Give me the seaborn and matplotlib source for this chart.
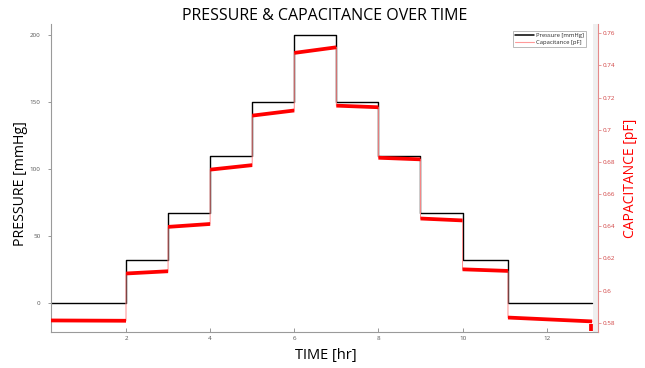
import matplotlib
matplotlib.use("Agg")
import matplotlib.pyplot as plt
from matplotlib.lines import Line2D
from matplotlib.ticker import FuncFormatter
import pandas as pd
import seaborn as sns

# hold boundaries (hours); one pressure level per hold
step_edges_hr = [0.2, 2.0, 3.0, 4.0, 5.0, 6.0, 7.0, 8.0, 9.0, 10.0, 11.08, 13.08]
pressure_mmhg = [0, 32, 67, 110, 150, 200, 150, 110, 67, 32, 0]

# capacitance at the start and end of each hold (it drifts a little)
cap_start_pf = [0.5814, 0.6106, 0.6396, 0.6752, 0.7088, 0.7478, 0.7150, 0.6826, 0.6448, 0.6132, 0.5832]
cap_end_pf = [0.5812, 0.6120, 0.6414, 0.6780, 0.7120, 0.7513, 0.7140, 0.6816, 0.6436, 0.6122, 0.5808]

# little dip at the very end of the recording
tail_hr = [13.06, 13.06]
tail_pf = [0.5790, 0.5750]

x_ticks = [2, 4, 6, 8, 10, 12]
pressure_ticks = [0, 50, 100, 150, 200]
cap_ticks = [0.58, 0.60, 0.62, 0.64, 0.66, 0.68, 0.70, 0.72, 0.74, 0.76]

sns.set_theme(style="white")
plt.rcParams['font.family'] = ['Open Sans', 'DejaVu Sans']

# long tables for seaborn
p_rows = []
c_rows = []
for i, level in enumerate(pressure_mmhg):
    p_rows.append([step_edges_hr[i], level])
    p_rows.append([step_edges_hr[i + 1], level])
    c_rows.append([step_edges_hr[i], cap_start_pf[i], i])
    c_rows.append([step_edges_hr[i + 1], cap_end_pf[i], i])
for t, c in zip(tail_hr, tail_pf):
    c_rows.append([t, c, len(pressure_mmhg)])
p_df = pd.DataFrame(p_rows, columns=['hr', 'mmHg'])
c_df = pd.DataFrame(c_rows, columns=['hr', 'pF', 'seg'])

fig = plt.figure(figsize=(6.45, 3.68), dpi=100)
ax = fig.add_axes([50.7 / 645, 1 - 331.7 / 368, (598 - 50.7) / 645, (331.7 - 24.3) / 368])
ax2 = ax.twinx()

ax.axvspan(13.1, 13.3, color='#efefef', lw=0, zorder=0)

sns.lineplot(data=p_df, x='hr', y='mmHg', estimator=None, sort=False,
             color='black', lw=1.0, ax=ax)

# thin trace linking the holds, then the thick noisy bands
sns.lineplot(data=c_df[c_df.seg < len(pressure_mmhg)], x='hr', y='pF', estimator=None,
             sort=False, color='#ff8c8c', lw=0.7, ax=ax2)
sns.lineplot(data=c_df, x='hr', y='pF', units='seg', estimator=None, sort=False,
             color='#ff0000', lw=2.7, ax=ax2, solid_capstyle='butt')

ax.set_xlim(0.21, 13.22)
ax.set_ylim(-21.3, 208)
ax2.set_ylim(0.5744, 0.7656)

ax.set_xticks(x_ticks)
ax.set_yticks(pressure_ticks)
ax2.set_yticks(cap_ticks)
ax2.yaxis.set_major_formatter(FuncFormatter(lambda v, p: f'{v:g}'))

ax.set_xlabel('')
ax.set_ylabel('')
ax2.set_xlabel('')
ax2.set_ylabel('')

for s in ['top', 'right']:
    ax.spines[s].set_visible(False)
for s in ['left', 'bottom']:
    ax.spines[s].set_color('#9a9a9a')
    ax.spines[s].set_linewidth(0.8)
for s in ['top', 'left', 'bottom']:
    ax2.spines[s].set_visible(False)
ax2.spines['right'].set_color('#e58a8a')
ax2.spines['right'].set_linewidth(0.8)

ax.tick_params(axis='x', direction='in', length=3, width=0.6, color='#888888',
               labelsize=4.5, labelcolor='#555555', pad=3, bottom=True)
ax.tick_params(axis='y', direction='out', length=2.5, width=0.6, color='#888888',
               labelsize=4.5, labelcolor='#555555', pad=5, left=True)
ax2.tick_params(axis='y', direction='out', length=2.5, width=0.6, color='#e58a8a',
                labelsize=4.5, labelcolor='#d04040', pad=1, right=True)

handles = [Line2D([], [], color='black', lw=1.1),
           Line2D([], [], color='#ff9a9a', lw=0.8)]
leg = ax2.legend(handles, ['Pressure [mmHg]', 'Capacitance [pF]'], loc='upper right',
                 bbox_to_anchor=(0.984, 0.988), fontsize=4.2, frameon=True,
                 fancybox=False, edgecolor='#9a9a9a', borderpad=0.4,
                 handlelength=3.2, labelspacing=0.2, handletextpad=0.4)
leg.get_frame().set_linewidth(0.6)

fig.text(325 / 645, 1 - 16 / 368, 'PRESSURE & CAPACITANCE OVER TIME', ha='center',
         va='center', fontsize=11.5, color='black')
fig.text(21 / 645, 1 - 184 / 368, 'PRESSURE [mmHg]', rotation=90, ha='center',
         va='center', fontsize=10.2, color='black')
fig.text(630 / 645, 1 - 178 / 368, 'CAPACITANCE [pF]', rotation=90, ha='center',
         va='center', fontsize=10, color='#ff0000')
fig.text(326 / 645, 1 - 355 / 368, 'TIME [hr]', ha='center', va='center',
         fontsize=10.5, color='black')

fig.savefig('out.png', dpi=100)
